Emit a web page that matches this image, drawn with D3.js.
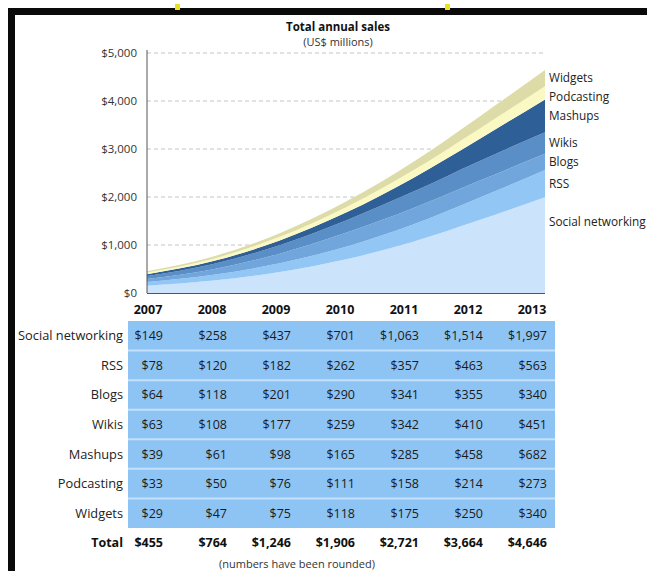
<!DOCTYPE html>
<html>
<head>
<meta charset="utf-8">
<script src="https://cdn.jsdelivr.net/npm/d3@7"></script>
<style>
  body { margin: 0; background: #fff; }
  svg { display: block; font-family: "Open Sans", sans-serif; }
</style>
</head>
<body>
<svg width="647" height="571"></svg>
<script>
var years = ["2007", "2008", "2009", "2010", "2011", "2012", "2013"];
var seriesNames = ["Social networking", "RSS", "Blogs", "Wikis", "Mashups", "Podcasting", "Widgets"];
var socialNetworking = [149, 258, 437, 701, 1063, 1514, 1997];
var rss = [78, 120, 182, 262, 357, 463, 563];
var blogs = [64, 118, 201, 290, 341, 355, 340];
var wikis = [63, 108, 177, 259, 342, 410, 451];
var mashups = [39, 61, 98, 165, 285, 458, 682];
var podcasting = [33, 50, 76, 111, 158, 214, 273];
var widgets = [29, 47, 75, 118, 175, 250, 340];
var totals = [455, 764, 1246, 1906, 2721, 3664, 4646];
var yTicks = [0, 1000, 2000, 3000, 4000, 5000];

var seriesValues = [socialNetworking, rss, blogs, wikis, mashups, podcasting, widgets];
var colors = ["#cbe3fb", "#92c6f4", "#70a6dc", "#5a8ec6", "#2f5f97", "#fbf9c3", "#dddba7"];

var svg = d3.select("svg");

// frame bits from the screenshot
svg.append("rect").attr("x", 8).attr("y", 8).attr("width", 639).attr("height", 7).attr("fill", "#0a0a0a");
svg.append("rect").attr("x", 8).attr("y", 8).attr("width", 7).attr("height", 563).attr("fill", "#0a0a0a");
svg.append("rect").attr("x", 175).attr("y", 4).attr("width", 5).attr("height", 6).attr("fill", "#e8e020");
svg.append("rect").attr("x", 445).attr("y", 4).attr("width", 5).attr("height", 6).attr("fill", "#e8e020");

// table rows built from the arrays
var rows = seriesNames.map(function(name, i) {
    var row = {name: name};
    years.forEach(function(y, j) { row[y] = seriesValues[i][j]; });
    return row;
});
// stack wants one object per year
var data = years.map(function(y, j) {
    var d = {year: y};
    seriesNames.forEach(function(name, i) { d[name] = seriesValues[i][j]; });
    return d;
});

var xScale = d3.scalePoint().domain(years).range([147, 545]),
    yScale = d3.scaleLinear().domain([0, 5000]).range([293, 53]);

var layers = d3.stack().keys(seriesNames)(data);

// title
svg.append("text").attr("x", 338).attr("y", 31).attr("text-anchor", "middle")
    .attr("font-size", 11.5).attr("font-weight", "bold").attr("fill", "#111")
    .text("Total annual sales");
svg.append("text").attr("x", 338).attr("y", 46).attr("text-anchor", "middle")
    .attr("font-size", 11).attr("fill", "#333")
    .text("(US$ millions)");

// grid
svg.append("g").selectAll("line")
    .data(yTicks.filter(function(t) { return t > 0; }))
    .enter().append("line")
    .attr("x1", 147).attr("x2", 545)
    .attr("y1", function(d) { return yScale(d); })
    .attr("y2", function(d) { return yScale(d); })
    .attr("stroke", "#c4c4c4").attr("stroke-width", 1).attr("stroke-dasharray", "4,3");

var area = d3.area()
    .curve(d3.curveMonotoneX)
    .x(function(d) { return xScale(d.data.year); })
    .y0(function(d) { return yScale(d[0]); })
    .y1(function(d) { return yScale(d[1]); });

svg.append("g").selectAll("path")
    .data(layers)
    .enter().append("path")
    .attr("d", area)
    .attr("fill", function(d, i) { return colors[i]; });

// axis
var yAxis = d3.axisLeft(yScale).tickValues(yTicks).tickSize(0).tickPadding(10)
    .tickFormat(function(d) { return "$" + d3.format(",")(d); });
var gy = svg.append("g").attr("transform", "translate(147,0)").call(yAxis);
gy.select(".domain").attr("stroke", "#555").attr("d", "M0,50V293");
gy.selectAll("text").attr("font-family", "Open Sans, sans-serif").attr("font-size", 11.5).attr("fill", "#333");
svg.append("line").attr("x1", 147).attr("x2", 545).attr("y1", 293.5).attr("y2", 293.5)
    .attr("stroke", "#555").attr("stroke-width", 1.2);

// labels at the right end of each layer
var last = layers.map(function(l) { return l[l.length - 1]; });
var labelY = last.map(function(p, i) {
    if (i === 0) return yScale(p[0] + (p[1] - p[0]) * 0.74);
    return yScale((p[0] + p[1]) / 2);
});
// push labels apart, top one stays put
for (var i = labelY.length - 2; i >= 0; i--) {
    if (labelY[i] - labelY[i + 1] < 19) labelY[i] = labelY[i + 1] + 19;
}
svg.append("g").selectAll("text")
    .data(seriesNames)
    .enter().append("text")
    .attr("x", 549)
    .attr("y", function(d, i) { return labelY[i] + 4; })
    .attr("font-size", 11.8).attr("fill", "#222")
    .text(function(d) { return d; });

// table
var colScale = d3.scalePoint().domain(years).range([148, 532]);
var rowScale = d3.scaleBand().domain(seriesNames).range([321, 528]);

svg.append("g").selectAll("text")
    .data(years)
    .enter().append("text")
    .attr("x", function(d) { return colScale(d); })
    .attr("y", 314)
    .attr("text-anchor", "middle")
    .attr("font-size", 12.5).attr("font-weight", "bold").attr("fill", "#111")
    .text(function(d) { return d; });

svg.append("rect").attr("x", 128).attr("y", 321).attr("width", 427).attr("height", 207)
    .attr("fill", "#8ec4f4");
svg.append("g").selectAll("line")
    .data(seriesNames.slice(1))
    .enter().append("line")
    .attr("x1", 128).attr("x2", 555)
    .attr("y1", function(d) { return rowScale(d); })
    .attr("y2", function(d) { return rowScale(d); })
    .attr("stroke", "#c4e0fb").attr("stroke-width", 2);

var money = function(v) { return "$" + d3.format(",")(v); };

var rowG = svg.append("g").selectAll("g")
    .data(rows)
    .enter().append("g")
    .attr("transform", function(d) { return "translate(0," + (rowScale(d.name) + rowScale.bandwidth() / 2 + 4.5) + ")"; });

rowG.append("text")
    .attr("x", 123).attr("text-anchor", "end")
    .attr("font-size", 12.8).attr("fill", "#222")
    .text(function(d) { return d.name; });

rowG.selectAll("text.val")
    .data(function(d) { return years.map(function(y) { return {year: y, v: d[y]}; }); })
    .enter().append("text")
    .attr("class", "val")
    .attr("x", function(d) { return colScale(d.year) + 15; })
    .attr("text-anchor", "end")
    .attr("font-size", 12.5).attr("fill", "#1a1a1a")
    .text(function(d) { return money(d.v); });

var totalG = svg.append("g").attr("transform", "translate(0,547)");
totalG.append("text").attr("x", 123).attr("text-anchor", "end")
    .attr("font-size", 12.5).attr("font-weight", "bold").attr("fill", "#111").text("Total");
totalG.selectAll("text.tot")
    .data(totals)
    .enter().append("text")
    .attr("class", "tot")
    .attr("x", function(d, i) { return colScale(years[i]) + 15; })
    .attr("text-anchor", "end")
    .attr("font-size", 12.5).attr("font-weight", "bold").attr("fill", "#111")
    .text(function(d) { return money(d); });

svg.append("text").attr("x", 297).attr("y", 568).attr("text-anchor", "middle")
    .attr("font-size", 11).attr("fill", "#333")
    .text("(numbers have been rounded)");
</script>
</body>
</html>
